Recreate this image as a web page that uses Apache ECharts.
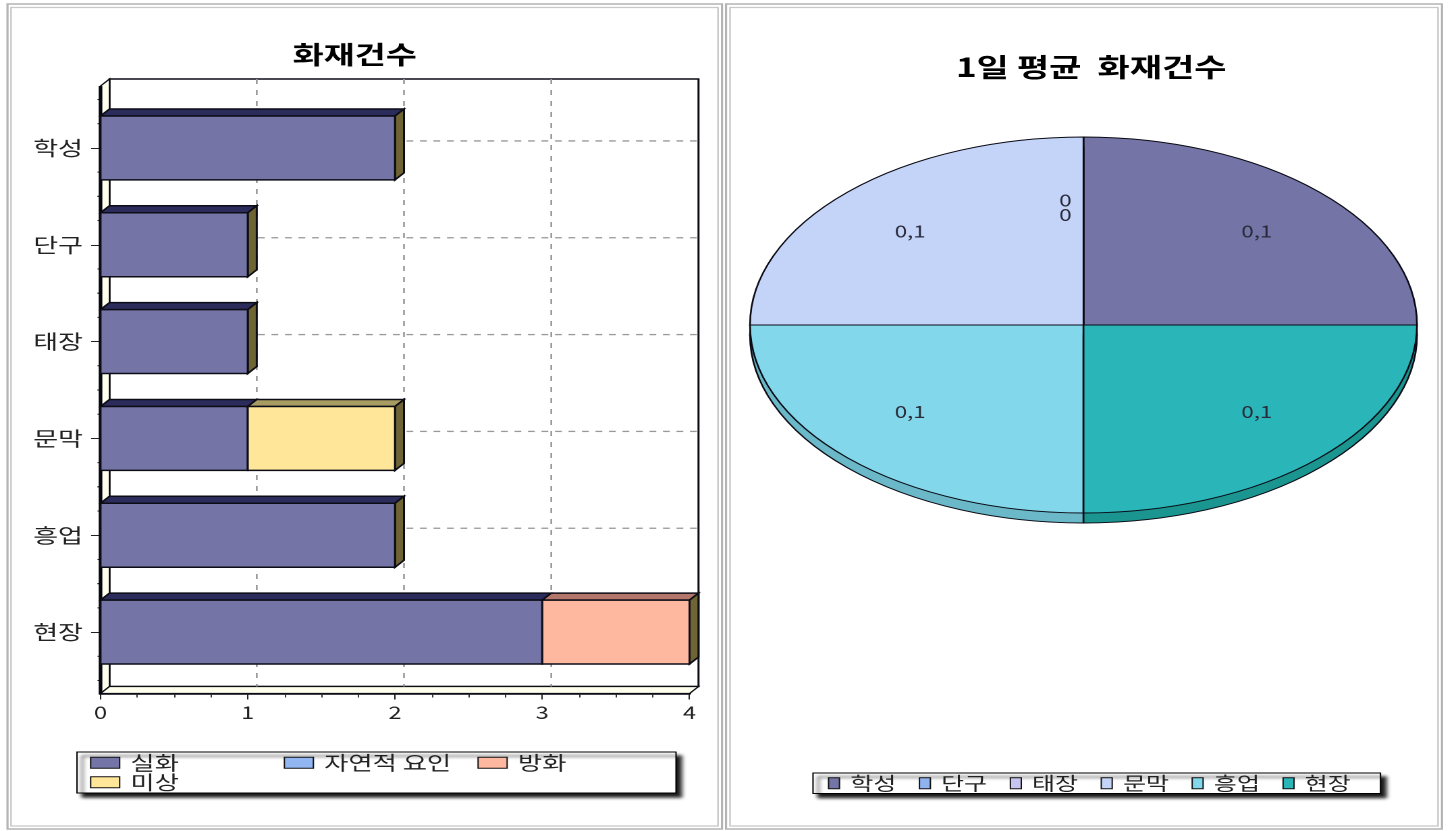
<!DOCTYPE html>
<html>
<head>
<meta charset="utf-8">
<script src="https://cdn.jsdelivr.net/npm/echarts@6/dist/echarts.min.js"></script>
<style>
html,body{margin:0;padding:0;background:#fff;overflow:hidden}
#chart{height:831px;transform-origin:0 0;}
</style>
</head>
<body>
<div id="chart"></div>
<script>
// ---- data ----
const places = ['학성','단구','태장','문막','흥업','현장'];
const causes = ['실화','자연적 요인','방화','미상'];
const accidental = [2,1,1,1,2,3];
const natural    = [0,0,0,0,0,0];
const arson      = [0,0,0,0,0,1];
const unknown    = [0,0,0,1,0,0];
const xTicks     = [0,1,2,3,4];
const dailyAverage = [0.1,0,0,0.1,0.1,0.1];
const barTitle = '화재건수';
const pieTitle = '1일 평균  화재건수';

// ---- styles ----
const S = 1.35;                 // the reference is stretched sideways; text and lines stretch with it
const causeValues = [accidental,natural,arson,unknown];
const causeFront = ['#7474A6','#92B6F2','#FFB8A0','#FFE698'];
const causeTop   = ['#2C2C5C','#5A78A8','#B4766A','#A89C62'];
const sideColor  = '#6F6434';
const pieFront = ['#7474A6','#8FB3EE','#C6C4F0','#C3D4F8','#82D8EA','#2AB5B8'];
const pieSide  = ['#4A4A78','#6A88B8','#9492B8','#94A4C4','#6AB8C8','#1B958F'];
const FONT = '"Noto Sans CJK KR","Noto Sans",sans-serif';
const DX = 9/S, DY = -7;        // 3D depth of the bars
const PIE_DEPTH = 10;

const el = document.getElementById('chart');
el.style.width = (1450/S)+'px';
el.style.transform = 'scaleX('+S+')';
const chart = echarts.init(el,null,{devicePixelRatio:2,renderer:'canvas'});

const poly = (pts,fill,lw) => ({type:'polygon',shape:{points:pts},style:{fill:fill,stroke:'#0c0c16',lineWidth:lw||1.5}});
const line = (x1,y1,x2,y2,stroke,lw,dash) => ({type:'line',shape:{x1,y1,x2,y2},style:{stroke,lineWidth:lw,lineDash:dash||null}});

// walls, floor, dashed grid and minor y ticks of the 3D box
function renderBox(params,api){
  const band = api.size([0,1])[1];
  const x0 = api.coord([xTicks[0],0])[0], x4 = api.coord([xTicks[xTicks.length-1],0])[0];
  const top = api.coord([0,0])[1]-band/2-13.5, bot = api.coord([0,places.length-1])[1]+band/2+13;
  const c = [];
  c.push(poly([[x0+DX,top+DY],[x4+DX,top+DY],[x4+DX,bot+DY],[x0+DX,bot+DY]],'#fff',1.5));
  c.push(poly([[x0,top],[x0+DX,top+DY],[x0+DX,bot+DY],[x0,bot]],'#FFFFEE',1.2));
  c.push(poly([[x0,bot],[x0+DX,bot+DY],[x4+DX,bot+DY],[x4,bot]],'#FFFFEE',1.2));
  xTicks.slice(1,-1).forEach(t=>{
    const x = api.coord([t,0])[0]+DX;
    c.push(line(x,top+DY,x,bot+DY,'#999999',1.3,[5,6]));
  });
  places.forEach((p,i)=>{
    const y = api.coord([0,i])[1]+DY;
    c.push(line(x0+DX,y,x4+DX,y,'#999999',1.3,[5,5]));
  });
  for(let i=0;i<places.length;i++){
    const y = api.coord([0,i])[1];
    [-2,-1,1,2].forEach(k=>{
      const yy = y+k*band/4;
      c.push(line(x0-3/S,yy,x0,yy,'#222',1));
    });
  }
  c.push(line(x0,top,x0,bot+1,'#05050f',2.7));
  return {type:'group',children:c};
}

function renderBar(series){
  return function(params,api){
    const v = api.value(0), i = api.value(1);
    if(!v) return null;
    let start = 0;
    for(let s=0;s<series;s++) start += causeValues[s][i];
    let total = 0;
    causeValues.forEach(a=>{total += a[i];});
    const end = start+v;
    const h = api.size([0,1])[1]*0.66;
    const a = api.coord([start,i]), b = api.coord([end,i]);
    const y0 = a[1]-h/2, y1 = a[1]+h/2, x0 = a[0], x1 = b[0];
    const c = [];
    c.push(poly([[x0,y0],[x1,y0],[x1+DX,y0+DY],[x0+DX,y0+DY]],causeTop[series]));
    if(end===total) c.push(poly([[x1,y0],[x1+DX,y0+DY],[x1+DX,y1+DY],[x1,y1]],sideColor));
    c.push(poly([[x0,y0],[x1,y0],[x1,y1],[x0,y1]],causeFront[series]));
    return {type:'group',children:c};
  };
}

function renderSlice(slice){
  return function(params,api){
    const v = api.value(0);
    const sum = dailyAverage.reduce((p,q)=>p+q,0);
    let before = 0;
    for(let s=0;s<slice;s++) before += dailyAverage[s];
    const a0 = before/sum*Math.PI*2, a1 = (before+v)/sum*Math.PI*2, mid = (a0+a1)/2;
    const o = api.coord([0,0]);
    const rx = api.size([1,0])[0], ry = api.size([0,1])[1];
    const c = [];
    const text = String(v).replace('.',',');
    if(v){
      const sector = (dy,fill)=>({type:'sector',x:o[0],y:o[1]+dy,scaleY:ry/rx,
        shape:{cx:0,cy:0,r0:0,r:rx,startAngle:-a0,endAngle:-a1,clockwise:false},
        style:{fill:fill,stroke:'#0a0a14',lineWidth:1.3}});
      c.push(sector(PIE_DEPTH,pieSide[slice]));
      c.push(sector(0,pieFront[slice]));
      c.push({type:'text',x:o[0]+rx*0.735*Math.cos(mid),y:o[1]-3.5-ry*0.68*Math.sin(mid),z2:10,
        style:{text:text,fill:'#2a2a3a',font:'16.5px '+FONT,align:'center',verticalAlign:'middle'}});
    }else{
      // zero-sized slices stack their labels beside the 12 o'clock line
      const zeroBefore = dailyAverage.slice(0,slice).filter(q=>!q).length;
      c.push({type:'text',x:o[0]-18/S,y:o[1]-125+zeroBefore*14.5,z2:10,
        style:{text:text,fill:'#2a2a3a',font:'16.5px '+FONT,align:'center',verticalAlign:'middle'}});
    }
    return {type:'group',children:c};
  };
}

const frameRect = (x0,y0,x1,y1,color,w) => ({type:'rect',z:0,silent:true,
  shape:{x:x0/S,y:y0,width:(x1-x0)/S,height:y1-y0},style:{fill:null,stroke:color,lineWidth:w}});

const series = [];
series.push({type:'custom',name:'box',xAxisIndex:0,yAxisIndex:0,z:1,silent:true,
  renderItem:renderBox,data:[[0,0]],encode:{x:0,y:1}});
causes.forEach((name,s)=>{
  series.push({type:'custom',name:name,xAxisIndex:0,yAxisIndex:0,z:3,
    itemStyle:{color:causeFront[s]},renderItem:renderBar(s),
    data:causeValues[s].map((v,i)=>[v,i]),encode:{x:0,y:1}});
});
places.forEach((name,s)=>{
  series.push({type:'custom',name:name,xAxisIndex:1,yAxisIndex:1,z:3,
    itemStyle:{color:pieFront[s]},renderItem:renderSlice(s),
    data:[[dailyAverage[s],0]],encode:{x:0,y:1}});
});

const legendShadow = {shadowColor:'rgba(0,0,0,0.9)',shadowBlur:3,shadowOffsetX:4,shadowOffsetY:4};

chart.setOption({
  animation:false,
  backgroundColor:'#fff',
  title:[
    {text:barTitle,left:348/S,top:37,textAlign:'center',textStyle:{fontFamily:FONT,fontSize:25,fontWeight:'bold',color:'#000'}},
    {text:pieTitle,left:1084.5/S,top:49,textAlign:'center',textStyle:{fontFamily:FONT,fontSize:26,fontWeight:'bold',color:'#000'}}
  ],
  graphic:[
    frameRect(7.5,4,722,829,'#B4B4B4',1.6),
    frameRect(11,7.5,718,826,'#C8C8C8',1.2),
    frameRect(726,4,1442,829,'#B4B4B4',1.6),
    frameRect(730,7.5,1438,826,'#C8C8C8',1.2)
  ],
  grid:[
    {left:100.5/S,width:589/S,top:99.5,height:581,containLabel:false},
    {left:750/S,width:667/S,top:137,height:376,containLabel:false}
  ],
  xAxis:[
    {type:'value',gridIndex:0,min:0,max:4,interval:1,offset:13,
      axisLine:{show:true,onZero:false,lineStyle:{color:'#05050f',width:2.5}},
      axisTick:{show:true,length:6,lineStyle:{color:'#222',width:1}},
      minorTick:{show:true,splitNumber:4,length:4,lineStyle:{color:'#333',width:1}},
      splitLine:{show:false},
      axisLabel:{show:true,margin:10,fontFamily:FONT,fontSize:17.5,color:'#222',formatter:v=>String(xTicks[v])}},
    {type:'value',gridIndex:1,min:-1,max:1,show:false}
  ],
  yAxis:[
    {type:'category',gridIndex:0,data:places,inverse:true,
      axisLine:{show:false},
      axisTick:{show:true,alignWithLabel:true,length:7,lineStyle:{color:'#222',width:1}},
      axisLabel:{show:true,margin:13,fontFamily:FONT,fontSize:20,color:'#222'},
      splitLine:{show:false}},
    {type:'value',gridIndex:1,min:-1,max:1,show:false}
  ],
  legend:[
    Object.assign({
      data:causes,left:77/S,top:752,orient:'horizontal',icon:'rect',
      itemWidth:21.5,itemHeight:11,itemGap:0,
      padding:[1,3.6,1,9.6],width:444,
      backgroundColor:'#fff',borderColor:'#000',borderWidth:1,selectedMode:false,
      itemStyle:{borderColor:'#111',borderWidth:1},
      textStyle:{fontFamily:FONT,fontSize:19.5,color:'#222',width:113.5,lineHeight:11,padding:[0,0,0,3]}
    },legendShadow),
    Object.assign({
      data:places,left:813/S,top:773,orient:'horizontal',icon:'rect',
      itemWidth:8.1,itemHeight:11,itemGap:16.7,
      padding:[1,22,1,11],
      backgroundColor:'#fff',borderColor:'#000',borderWidth:1,selectedMode:false,
      itemStyle:{borderColor:'#111',borderWidth:1},
      textStyle:{fontFamily:FONT,fontSize:18.5,color:'#222',width:32,lineHeight:13,padding:[0,0,0,3]}
    },legendShadow)
  ],
  series:series
});
</script>
</body>
</html>
